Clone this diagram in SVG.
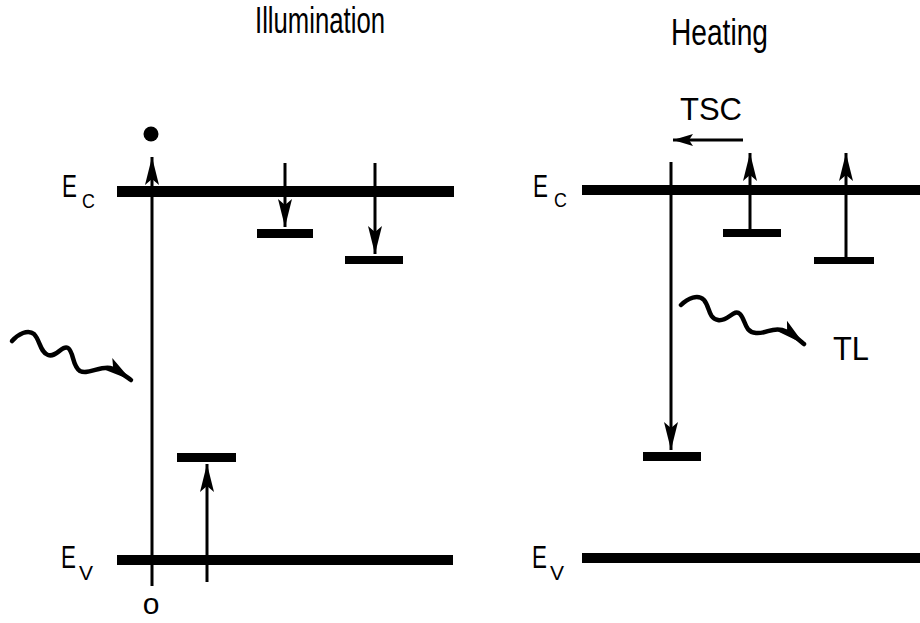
<svg xmlns="http://www.w3.org/2000/svg" width="920" height="623" viewBox="0 0 920 623">
<style>
.t{font-family:"Liberation Sans",Arial,sans-serif;fill:#000}
.e{font-family:"Liberation Sans",Arial,sans-serif;fill:#000;font-size:32px}
.s{font-family:"Liberation Sans",Arial,sans-serif;fill:#000;font-size:21px}
.band{fill:#000}
.ln{stroke:#000;stroke-width:3;fill:none}
.wave{stroke:#000;stroke-width:4.5;fill:none;stroke-linecap:round;stroke-linejoin:round}
</style>
<defs>
<marker id="ah" markerUnits="userSpaceOnUse" markerWidth="30" markerHeight="16" refX="28" refY="8" orient="auto" viewBox="0 0 30 16">
<path d="M0,1 L28,8 L0,15 L6,8 z" fill="#000"/>
</marker>
<marker id="ahs" markerUnits="userSpaceOnUse" markerWidth="22" markerHeight="14" refX="20" refY="7" orient="auto" viewBox="0 0 22 14">
<path d="M0,1 L20,7 L0,13 L4,7 z" fill="#000"/>
</marker>
</defs>

<text class="t" x="255" y="33" font-size="36" textLength="130" lengthAdjust="spacingAndGlyphs">Illumination</text>
<text class="t" x="671" y="45" font-size="36" textLength="97" lengthAdjust="spacingAndGlyphs">Heating</text>

<g id="left-panel">
<g id="ec-left">
<rect class="band" x="117" y="186" width="337" height="11"/>
<text class="e" transform="translate(62,197) scale(0.7,1)">E</text>
<text class="s" transform="translate(82,208) scale(0.85,1)">C</text>
</g>
<g id="ev-left">
<rect class="band" x="117" y="555" width="336" height="10"/>
<text class="e" transform="translate(61,568) scale(0.7,1)">E</text>
<text class="s" transform="translate(79,580)">V</text>
</g>
<g id="electron"><circle cx="151" cy="134" r="7.5" fill="#000"/></g>
<g id="origin"><text class="t" x="151" y="614" font-size="30" text-anchor="middle">o</text></g>
<g id="trap-l1"><rect class="band" x="257" y="229" width="56" height="9"/></g>
<g id="trap-l2"><rect class="band" x="345" y="256" width="58" height="8"/></g>
<g id="trap-l3"><rect class="band" x="177" y="453" width="59" height="9"/></g>
</g>

<g id="right-panel">
<g id="ec-right">
<rect class="band" x="582" y="185" width="338" height="10"/>
<text class="e" transform="translate(533,197) scale(0.7,1)">E</text>
<text class="s" transform="translate(554,207) scale(0.85,1)">C</text>
</g>
<g id="ev-right">
<rect class="band" x="582" y="553" width="338" height="10"/>
<text class="e" transform="translate(532,568) scale(0.7,1)">E</text>
<text class="s" transform="translate(550,580)">V</text>
</g>
<g id="trap-r1"><rect class="band" x="723" y="229" width="58" height="8"/></g>
<g id="trap-r2"><rect class="band" x="814" y="257" width="60" height="7"/></g>
<g id="trap-r3"><rect class="band" x="643" y="452" width="58" height="9"/></g>
<g id="tsc-label"><text class="t" x="711" y="120" font-size="31" text-anchor="middle" textLength="62" lengthAdjust="spacingAndGlyphs">TSC</text></g>
<g id="tl-label"><text class="t" x="833" y="360" font-size="34" textLength="36" lengthAdjust="spacingAndGlyphs">TL</text></g>
</g>

<g id="connectors">
<line class="ln" x1="152" y1="586" x2="152" y2="157" marker-end="url(#ah)"/>
<line class="ln" x1="285" y1="163" x2="285" y2="227" marker-end="url(#ah)"/>
<line class="ln" x1="375" y1="163" x2="375" y2="254" marker-end="url(#ah)"/>
<line class="ln" x1="207" y1="582" x2="207" y2="464" marker-end="url(#ah)"/>
<path class="wave" d="M12,341 C18,334 28,329 34,334 C40,340 40,352 48,355 C56,358 62,345 68,348 C74,352 72,366 80,371 C88,375 100,366 110,368 C118,370 124,375 131,380" marker-end="url(#ah)"/>
<line class="ln" x1="671" y1="162" x2="671" y2="450" marker-end="url(#ah)"/>
<line class="ln" x1="750" y1="233" x2="750" y2="153" marker-end="url(#ah)"/>
<line class="ln" x1="846" y1="258" x2="846" y2="153" marker-end="url(#ah)"/>
<line class="ln" x1="743" y1="140" x2="673" y2="140" marker-end="url(#ahs)"/>
<path class="wave" d="M681,305 C688,298 698,294 704,300 C710,307 708,318 718,320 C728,322 734,308 740,314 C746,320 744,332 756,333 C766,334 772,327 782,330 C792,333 798,339 804,344" marker-end="url(#ah)"/>
</g>
</svg>
